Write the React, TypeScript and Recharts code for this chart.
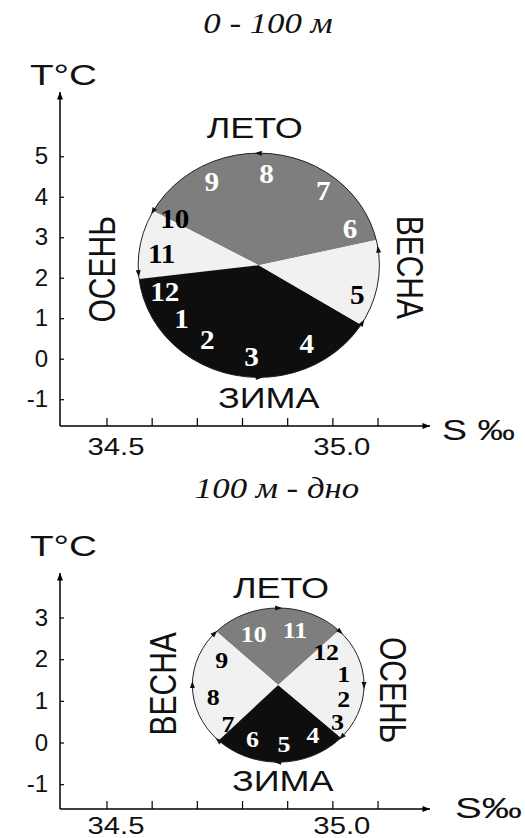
import React from 'react';
import { ScatterChart, Scatter, XAxis, YAxis } from 'recharts';

// salinity axis, shared by both panels
const S_DOMAIN = [34.396, 35.215];
const S_TICKS = [34.5, 34.6, 34.7, 34.8, 34.9, 35.0, 35.1];
const S_LABELED = [34.5, 35.0];

// ---- 0 - 100 m ----
const TOP_T_DOMAIN = [-1.65, 6.6];
const TOP_T_TICKS = [-1, 0, 1, 2, 3, 4, 5];
const TOP_CENTER = { s: 34.836, t: 2.32 };
const TOP_RIGHT_S = 35.103;
const TOP_TOP_T = 5.09;
const TOP_SEASONS = ['ЛЕТО', 'ОСЕНЬ', 'ЗИМА', 'ВЕСНА'];
const TOP_SEASON_FROM = [13, 151, 187, 328];
const TOP_SEASON_TO = [151, 187, 328, 373];
const TOP_SEASON_S = [34.827, 34.489, 34.858, 35.17];
const TOP_SEASON_T = [5.73, 2.22, -0.95, 2.27];
const MONTHS = [1, 2, 3, 4, 5, 6, 7, 8, 9, 10, 11, 12];
const TOP_MONTH_S = [34.665, 34.722, 34.82, 34.942, 35.054, 35.038, 34.979, 34.853, 34.732, 34.65, 34.621, 34.628];
const TOP_MONTH_T = [1.0, 0.47, 0.06, 0.39, 1.6, 3.23, 4.17, 4.585, 4.38, 3.47, 2.61, 1.66];
const TOP_ARROWS = [90, 151, 184, 8, -31, -90];

// ---- 100 m - дно ----
const BOT_T_DOMAIN = [-1.584, 4.08];
const BOT_T_TICKS = [-1, 0, 1, 2, 3];
const BOT_CENTER = { s: 34.879, t: 1.39 };
const BOT_RIGHT_S = 35.069;
const BOT_TOP_T = 3.24;
const BOT_SEASONS = ['ЛЕТО', 'ВЕСНА', 'ЗИМА', 'ОСЕНЬ'];
const BOT_SEASON_FROM = [45, 136, 226, 317];
const BOT_SEASON_TO = [136, 226, 317, 405];
const BOT_SEASON_S = [34.885, 34.625, 34.889, 35.133];
const BOT_SEASON_T = [3.74, 1.42, -0.91, 1.27];
const BOT_MONTH_S = [35.024, 35.024, 35.01, 34.956, 34.892, 34.822, 34.768, 34.735, 34.754, 34.825, 34.916, 34.985];
const BOT_MONTH_T = [1.65, 1.07, 0.5, 0.19, -0.01, 0.11, 0.47, 1.11, 1.99, 2.63, 2.71, 2.2];
const BOT_ARROWS = [90, 44, 0, -42, -90, -134, 180, 138];

const SANS = "Arial, 'Liberation Sans', sans-serif";
const SERIF = "'Times New Roman', 'Liberation Serif', serif";
const FILL: Record<string, string> = { 'ЛЕТО': '#7e7e7e', 'ЗИМА': '#0e0e0e', 'ВЕСНА': '#f1f1f1', 'ОСЕНЬ': '#f1f1f1' };

const Hidden = () => <g />;

const YTick = (props: any) => {
  const { x, y, payload } = props;
  return (
    <g>
      <line x1={x} y1={y} x2={x + 4} y2={y} stroke="#000" strokeWidth={1.2} />
      <text x={x - 12} y={y - 1} textAnchor="end" dominantBaseline="central" fontSize={24} fontFamily={SANS} fill="#111">
        {payload.value}
      </text>
    </g>
  );
};

const XTick = (props: any) => {
  const { x, y, payload, labelDy = 29 } = props;
  const labeled = S_LABELED.some(v => Math.abs(v - payload.value) < 1e-6);
  return (
    <g>
      <line x1={x} y1={y} x2={x} y2={y - 8} stroke="#000" strokeWidth={1.2} />
      {labeled && (
        <text x={x + 9} y={y + labelDy} textAnchor="middle" fontSize={24} fontFamily={SANS} fill="#111"
          textLength={57} lengthAdjust="spacingAndGlyphs">
          {Number(payload.value).toFixed(1)}
        </text>
      )}
    </g>
  );
};

interface PieCfg {
  seasons: string[];
  from: number[];
  to: number[];
  arrows: number[];
  dir: number;
}

const makePie = (cfg: PieCfg) => (props: any) => {
  const pts = props.points;
  if (!pts || pts.length < 3) return <g />;
  const cx = pts[0].x;
  const cy = pts[0].y;
  const ry = Math.abs(pts[0].y - pts[1].y);
  const rx = Math.abs(pts[2].x - pts[0].x);
  const at = (deg: number) => {
    const a = (deg * Math.PI) / 180;
    return [cx + rx * Math.cos(a), cy - ry * Math.sin(a)];
  };
  return (
    <g>
      {cfg.seasons.map((name, i) => {
        const [x0, y0] = at(cfg.from[i]);
        const [x1, y1] = at(cfg.to[i]);
        const large = cfg.to[i] - cfg.from[i] > 180 ? 1 : 0;
        return (
          <path key={name + i}
            d={`M${cx},${cy} L${x0},${y0} A${rx},${ry} 0 ${large} 0 ${x1},${y1} Z`}
            fill={FILL[name]} stroke="none" />
        );
      })}
      <ellipse cx={cx} cy={cy} rx={rx} ry={ry} fill="none" stroke="#222" strokeWidth={1} />
      {cfg.arrows.map((deg, i) => {
        const a = (deg * Math.PI) / 180;
        const [px, py] = at(deg);
        let dx = -rx * Math.sin(a) * cfg.dir;
        let dy = -ry * Math.cos(a) * cfg.dir;
        const len = Math.hypot(dx, dy);
        dx /= len;
        dy /= len;
        const nx = -dy, ny = dx;
        const tip = `${px + dx * 4},${py + dy * 4}`;
        const b1 = `${px - dx * 3 + nx * 2.5},${py - dy * 3 + ny * 2.5}`;
        const b2 = `${px - dx * 3 - nx * 2.5},${py - dy * 3 - ny * 2.5}`;
        return <polygon key={i} points={`${tip} ${b1} ${b2}`} fill="#111" />;
      })}
    </g>
  );
};

const monthShape = (white: number[], size: number) => (p: any) => (
  <text transform={`translate(${p.cx},${p.cy}) scale(1.08,1)`} textAnchor="middle" dominantBaseline="central"
    fontFamily={SERIF} fontWeight="bold" fontSize={size} fill={white.includes(p.payload.m) ? '#fff' : '#000'}>
    {p.payload.m}
  </text>
);

const seasonShape = (rot: Record<string, number>) => (p: any) => (
  <text transform={`translate(${p.cx},${p.cy}) scale(1.2,1) rotate(${rot[p.payload.name]})`}
    textAnchor="middle" dominantBaseline="central" fontFamily={SANS} fontSize={30} fill="#111">
    {p.payload.name}
  </text>
);

interface PanelProps {
  height: number;
  top: number;
  xAxisHeight: number;
  labelDy: number;
  tDomain: number[];
  tTicks: number[];
  pie: any[];
  pieCfg: PieCfg;
  months: any[];
  white: number[];
  monthSize: number;
  seasons: any[];
  rot: Record<string, number>;
}

const Panel = (p: PanelProps) => (
  <ScatterChart width={525} height={p.height} margin={{ top: p.top, right: 95, bottom: 0, left: 0 }}>
    <XAxis type="number" dataKey="s" domain={S_DOMAIN} ticks={S_TICKS} interval={0} allowDataOverflow
      height={p.xAxisHeight} tickSize={0} tickMargin={0} tickLine={false} tick={<XTick labelDy={p.labelDy} />}
      axisLine={{ stroke: '#000', strokeWidth: 1.5, markerEnd: 'url(#axisArrow)' }} />
    <YAxis type="number" dataKey="t" domain={p.tDomain} ticks={p.tTicks} interval={0} allowDataOverflow
      width={60} tickSize={0} tickMargin={0} tickLine={false} tick={<YTick />}
      axisLine={{ stroke: '#000', strokeWidth: 1.5, markerStart: 'url(#axisArrow)' }} />
    <Scatter data={p.pie} line={makePie(p.pieCfg)} lineType="joint" shape={Hidden} isAnimationActive={false} />
    <Scatter data={p.months} shape={monthShape(p.white, p.monthSize)} isAnimationActive={false} />
    <Scatter data={p.seasons} shape={seasonShape(p.rot)} isAnimationActive={false} />
  </ScatterChart>
);

export default function App() {
  const topPie = [TOP_CENTER, { s: TOP_CENTER.s, t: TOP_TOP_T }, { s: TOP_RIGHT_S, t: TOP_CENTER.t }];
  const botPie = [BOT_CENTER, { s: BOT_CENTER.s, t: BOT_TOP_T }, { s: BOT_RIGHT_S, t: BOT_CENTER.t }];
  const topMonths = MONTHS.map((m, i) => ({ m, s: TOP_MONTH_S[i], t: TOP_MONTH_T[i] }));
  const botMonths = MONTHS.map((m, i) => ({ m, s: BOT_MONTH_S[i], t: BOT_MONTH_T[i] }));
  const topSeasons = TOP_SEASONS.map((name, i) => ({ name, s: TOP_SEASON_S[i], t: TOP_SEASON_T[i] }));
  const botSeasons = BOT_SEASONS.map((name, i) => ({ name, s: BOT_SEASON_S[i], t: BOT_SEASON_T[i] }));

  return (
    <div style={{ position: 'absolute', left: 0, top: 0, width: 525, height: 838, background: '#fff', overflow: 'hidden' }}>
      <svg width={0} height={0} style={{ position: 'absolute' }}>
        <defs>
          <marker id="axisArrow" viewBox="0 0 10 8" refX={10} refY={4} markerWidth={9} markerHeight={6}
            markerUnits="userSpaceOnUse" orient="auto-start-reverse">
            <path d="M0,0 L10,4 L0,8 z" fill="#000" />
          </marker>
        </defs>
      </svg>
      <Panel height={460} top={92} xAxisHeight={34} labelDy={29} tDomain={TOP_T_DOMAIN} tTicks={TOP_T_TICKS}
        pie={topPie}
        pieCfg={{ seasons: TOP_SEASONS, from: TOP_SEASON_FROM, to: TOP_SEASON_TO, arrows: TOP_ARROWS, dir: 1 }}
        months={topMonths} white={[6, 7, 8, 9, 12, 1, 2, 3, 4]} monthSize={27}
        seasons={topSeasons} rot={{ 'ЛЕТО': 0, 'ОСЕНЬ': -90, 'ЗИМА': 0, 'ВЕСНА': 90 }} />
      <Panel height={378} top={113} xAxisHeight={29} labelDy={25} tDomain={BOT_T_DOMAIN} tTicks={BOT_T_TICKS}
        pie={botPie}
        pieCfg={{ seasons: BOT_SEASONS, from: BOT_SEASON_FROM, to: BOT_SEASON_TO, arrows: BOT_ARROWS, dir: -1 }}
        months={botMonths} white={[10, 11, 4, 5, 6]} monthSize={24}
        seasons={botSeasons} rot={{ 'ЛЕТО': 0, 'ВЕСНА': -90, 'ЗИМА': 0, 'ОСЕНЬ': 90 }} />
      <svg width={525} height={838} style={{ position: 'absolute', left: 0, top: 0, pointerEvents: 'none' }}>
        <text transform="translate(268,33) scale(1.2,1)" textAnchor="middle" fontFamily={SERIF} fontStyle="italic"
          fontSize={29} fill="#111">0 - 100 м</text>
        <text transform="translate(277,498) scale(1.2,1)" textAnchor="middle" fontFamily={SERIF} fontStyle="italic"
          fontSize={29} fill="#111">100 м - дно</text>
        <text x={30} y={85} fontFamily={SANS} fontSize={29} fill="#111" textLength={67} lengthAdjust="spacingAndGlyphs">T°C</text>
        <text x={30} y={556} fontFamily={SANS} fontSize={29} fill="#111" textLength={67} lengthAdjust="spacingAndGlyphs">T°C</text>
        <text x={442} y={440} fontFamily={SANS} fontSize={29} fill="#111" textLength={73} lengthAdjust="spacingAndGlyphs">S ‰</text>
        <text x={455} y={818} fontFamily={SANS} fontSize={29} fill="#111" textLength={67} lengthAdjust="spacingAndGlyphs">S‰</text>
      </svg>
    </div>
  );
}
